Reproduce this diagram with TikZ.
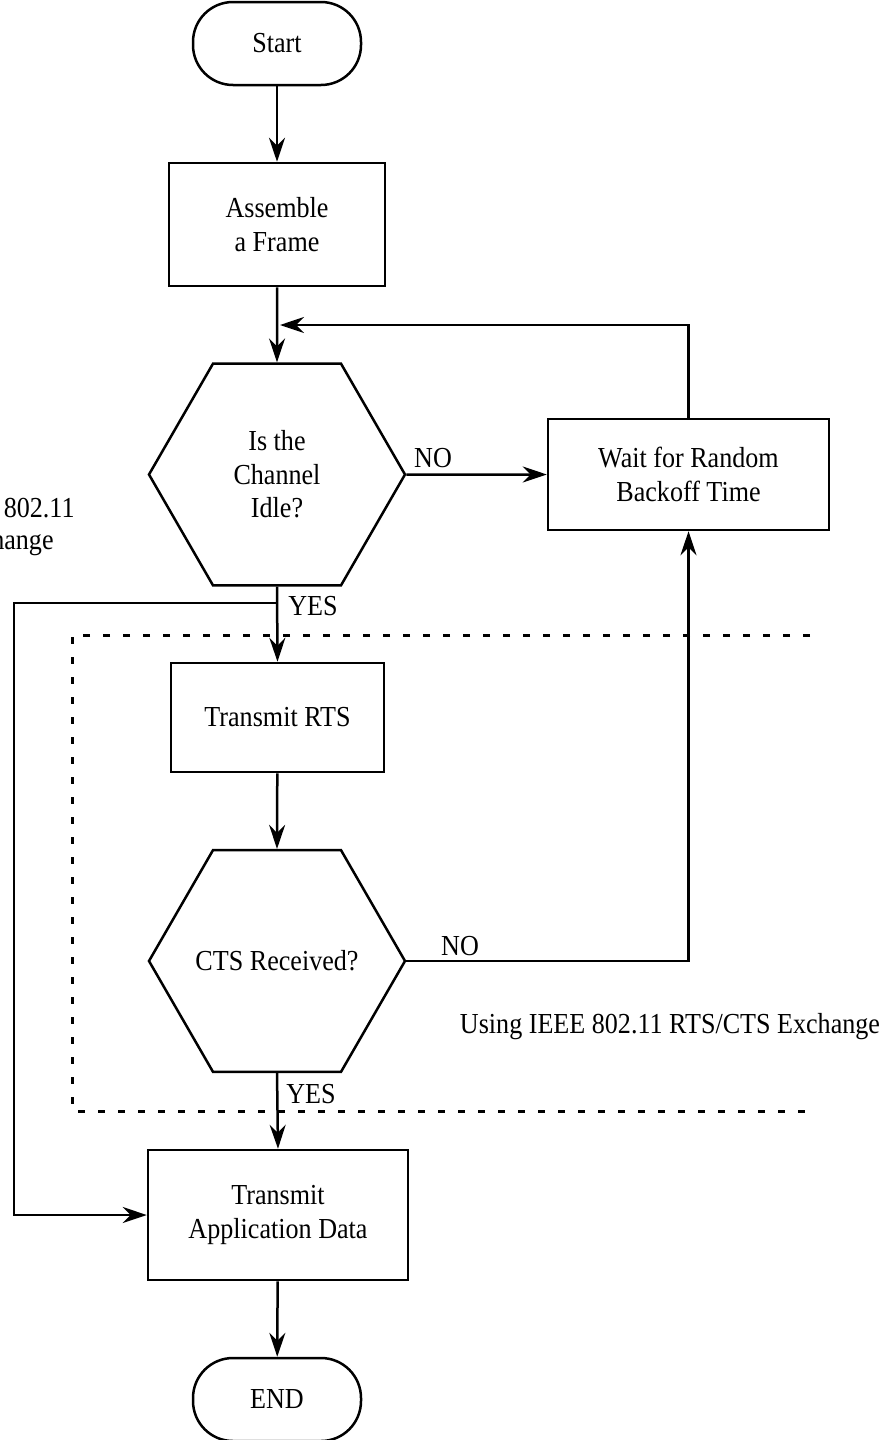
\documentclass[tikz,border=0pt]{standalone}
\usepackage{fontspec}
\setmainfont{Liberation Serif}[FakeStretch=0.9]
\usetikzlibrary{arrows.meta,shapes.geometric}

\tikzset{
  every node/.style={font=\fontsize{14.5}{16.75}\selectfont, align=center, inner sep=0pt},
  flow/.style={line width=1.25pt, line join=miter},
  arr/.style={flow, -{Stealth[length=12pt,width=8pt,inset=4pt]}},
  terminal/.style={draw, line width=1.25pt, rounded corners=20pt, minimum width=84pt, minimum height=41.5pt},
  process/.style={draw, line width=1.25pt},
  decision/.style={draw, line width=1.25pt, regular polygon, regular polygon sides=6, minimum size=128pt, inner sep=-30pt},
  region/.style={line width=1.5pt, dash pattern=on 3.5pt off 6.5pt},
  tag/.style={anchor=center}
}

\begin{document}
\begin{tikzpicture}[x=0.5pt, y=-0.5pt]
  \useasboundingbox (0,0) rectangle (887,1440);
  \clip (0,0) rectangle (887,1440);

  % boxes of the flow
  \node[terminal] (start) at (277,43.5) {Start};
  \node[process, minimum width=108pt, minimum height=61.5pt] (asm) at (277,224.5) {Assemble\\a Frame};
  \node[decision] (idle) at (277,474.5) {Is the\\Channel\\Idle?};
  \node[process, minimum width=140.5pt, minimum height=55.5pt] (wait) at (688.5,474.5) {Wait for Random\\Backoff Time};
  \node[process, minimum width=106.5pt, minimum height=54.5pt] (rts) at (277.5,717.5) {Transmit RTS};
  \node[decision] (cts) at (277,961) {CTS Received?};
  \node[process, minimum width=130pt, minimum height=65pt] (app) at (278,1215) {Transmit\\Application Data};
  \node[terminal] (end) at (277,1399.5) {END};

  % helper points for the bends
  \coordinate (fb) at (280,325);
  \coordinate (split) at (277,603);
  \coordinate (side) at (14,603);

  % RTS/CTS region, open on the right
  \draw[region] (810,635) -- (72,635) -- (72,1111) -- (810,1111);

  % connectors
  \draw[arr] (start) -- (asm);
  \draw[arr] (asm) -- (idle.north);
  \draw[arr] (wait.north) |- (fb);
  \draw[arr] (idle.east) -- (wait.west);
  \draw[arr] (idle.south) -- (rts.north);
  \draw[arr] (split) -- (side) |- (app.west);
  \draw[arr] (rts) -- (cts.north);
  \draw[arr] (cts.east) -| (wait.south);
  \draw[arr] (cts.south) -- (app.north);
  \draw[arr] (app) -- (end);

  % branch labels
  \node[tag] (no1) at (433,458) {NO};
  \node[tag] (yes1) at (313,606) {YES};
  \node[tag] (no2) at (460,946) {NO};
  \node[tag] (yes2) at (311,1094) {YES};

  % region captions
  \node[tag] (inside) at (670,1027) {Using IEEE 802.11 RTS/CTS Exchange};
  \node[anchor=east] (out1) at (75,508) {802.11};
  \node[anchor=east] (out2) at (54,543) {Exchange};
\end{tikzpicture}
\end{document}
